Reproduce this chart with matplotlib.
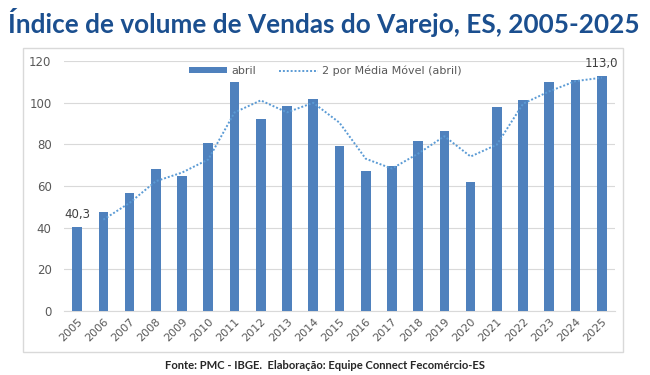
import matplotlib
matplotlib.use("Agg")
import matplotlib.pyplot as plt
from matplotlib.patches import Rectangle
import numpy as np

years = [str(y) for y in range(2005, 2026)]
abril = [40.3, 47.4, 56.4, 68.2, 64.7, 80.8, 109.8, 92.4, 98.3, 101.6, 79.2,
         67.0, 69.7, 81.4, 86.4, 61.9, 97.8, 101.2, 109.7, 111.0, 113.0]
title = "Índice de volume de Vendas do Varejo, ES, 2005-2025"
footer = "Fonte: PMC - IBGE.  Elaboração: Equipe Connect Fecomércio-ES"
bar_label = "abril"
ma_label = "2 por Média Móvel (abril)"

# 2-period moving average (Excel trendline)
vals = np.array(abril)
ma = (vals[1:] + vals[:-1]) / 2.0
x = np.arange(len(years))

fig = plt.figure(figsize=(6.5, 3.75), dpi=100)
ax = fig.add_axes([0.0985, 0.1707, 0.8475, 0.6666])

bar_color = "#4F81BD"
line_color = "#5B9BD5"
grid_color = "#D9D9D9"
text_gray = "#595959"

# chart border
fig.patches.append(Rectangle((0.035, 0.0613), 0.923, 0.8107, transform=fig.transFigure,
                             fill=False, edgecolor="#D9D9D9", linewidth=1.0))

bars = ax.bar(x, abril, width=0.37, color=bar_color, label=bar_label, zorder=3)
line, = ax.plot(x[1:], ma, linestyle=(0, (1, 1)), color=line_color, linewidth=1.4,
                label=ma_label, zorder=4)

ax.set_xlim(-0.5, len(years) - 0.5)
ax.set_ylim(0, 120)
ax.set_yticks(range(0, 121, 20))
ax.set_xticks(x)
ax.set_xticklabels(years, rotation=45, ha="right", rotation_mode="anchor",
                   fontsize=8, color=text_gray)
ax.tick_params(axis="y", length=0, pad=9, labelsize=8.5, labelcolor=text_gray)
ax.tick_params(axis="x", length=0, pad=4)
ax.grid(axis="y", color=grid_color, linewidth=0.8, zorder=0)
for s in ["top", "right", "left"]:
    ax.spines[s].set_visible(False)
ax.spines["bottom"].set_color(grid_color)

# data labels
for i in [0, len(abril) - 1]:
    ax.annotate(f"{abril[i]:.1f}".replace(".", ","), (x[i], abril[i]),
                xytext=(0, 4), textcoords="offset points", ha="center", va="bottom",
                fontsize=8.5, color="#404040")

leg = ax.legend([bars, line], [bar_label, ma_label], loc="center",
                bbox_to_anchor=(0.474, 0.96), ncol=2, frameon=False,
                fontsize=8.0, handlelength=3.5, handleheight=0.45, columnspacing=2.0,
                handletextpad=0.4)
for t in leg.get_texts():
    t.set_color(text_gray)

fig.text(0.012, 0.94, title, fontsize=18.8, fontweight="bold", color="#1B4F8F",
         family="Lato", ha="left", va="center")
fig.text(0.5, 0.025, footer, fontsize=8.1, fontweight="bold", color="#262626",
         family="Lato", ha="center", va="center")

fig.savefig("out.png", dpi=100)
